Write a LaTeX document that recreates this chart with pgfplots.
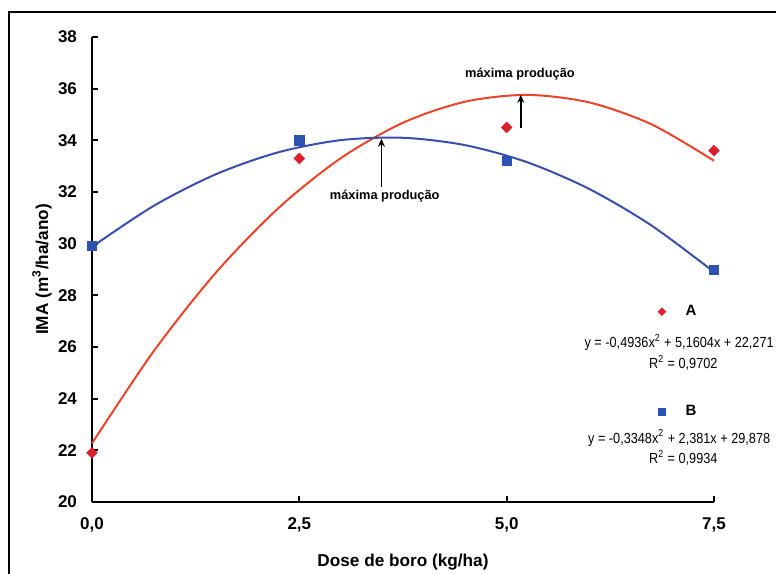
\documentclass[border=0pt]{standalone}
\usepackage{fontspec}
\setmainfont{Liberation Sans}
\usepackage{graphicx}
\usepackage{pgfplots}
\pgfplotsset{compat=1.18}
\usetikzlibrary{arrows.meta}
\definecolor{curvaA}{RGB}{236,68,40}
\definecolor{pontoA}{RGB}{218,32,44}
\definecolor{curvaB}{RGB}{58,78,176}
\definecolor{pontoB}{RGB}{44,82,178}
\newcommand{\eqfont}{\fontsize{7.3}{9}\selectfont}

\begin{document}
\begin{tikzpicture}
\useasboundingbox (-46pt,-35.5pt) rectangle (342pt,251pt);
\clip (-46pt,-35.5pt) rectangle (342pt,251pt);
% moldura
\draw[line width=1pt] (-41.5pt,-60pt) -- (-41.5pt,245pt) -- (400pt,245pt);
\begin{axis}[
  at={(0,0)}, anchor=south west,
  width=311pt, height=232.5pt, scale only axis,
  xmin=0, xmax=7.5, ymin=20, ymax=38,
  clip=false,
  axis x line=bottom, axis y line=left,
  axis line style={-, line width=1pt},
  xtick={0,2.5,5,7.5}, ytick={20,22,...,38},
  tick align=inside, major tick length=3pt,
  tick style={black, line width=1pt},
  /pgf/number format/assume math mode=true,
  ticklabel style={font=\bfseries\fontsize{8.5}{10}\selectfont},
  xticklabel style={yshift=-4.5pt, /pgf/number format/.cd, use comma, fixed, fixed zerofill, precision=1},
  yticklabel style={xshift=-4pt},
  xlabel={Dose de boro (kg/ha)},
  ylabel={IMA (m\textsuperscript{3}/ha/ano)},
  label style={font=\bfseries\fontsize{8.6}{10}\selectfont},
  xlabel style={at={(axis description cs:0.5,0)}, anchor=center, yshift=-30pt},
  ylabel style={at={(axis description cs:-0.0804,0.5)}, anchor=center},
  legend style={draw=none, fill=none, at={(axis cs:6.75,27.95)}, anchor=north west,
    row sep=39.5pt, font=\bfseries\fontsize{7.5}{9}\selectfont,
    /tikz/every odd column/.append style={column sep=8pt}},
  legend cell align=left,
  legend image post style={every mark/.append style={scale=0.72}},
]
% pontos observados
\addplot[only marks, mark=square*, mark options={rotate=45}, mark size=1.85pt, color=pontoA] coordinates {
  (0,21.9) (2.5,33.3) (5,34.5) (7.5,33.6)
};
\addlegendentry{A}
\addplot[only marks, mark=square*, mark size=2.3pt, color=pontoB] coordinates {
  (0,29.9) (2.5,34.0) (5,33.2) (7.5,29.0)
};
\addlegendentry{B}
% curvas de tendencia
\addplot[curvaA, line width=1pt, smooth, forget plot] coordinates {
  (0,22.271) (0.75,25.864) (1.5,28.901) (2.25,31.383) (3,33.310) (3.75,34.681)
  (4.5,35.497) (5.25,35.758) (6,35.464) (6.75,34.614) (7.5,33.209)
};
\addplot[curvaB, line width=1pt, smooth, forget plot] coordinates {
  (0,29.878) (0.75,31.475) (1.5,32.696) (2.25,33.540) (3,34.008) (3.75,34.099)
  (4.5,33.813) (5.25,33.150) (6,32.111) (6.75,30.695) (7.5,28.903)
};
% setas
\draw[-{Stealth[length=4pt,width=3.5pt]}, line width=0.8pt] (axis cs:5.17,34.48) -- (axis cs:5.17,35.76);
\node[font=\bfseries\fontsize{6.4}{8}\selectfont] at (axis cs:5.16,36.57) {máxima produção};
\draw[-{Stealth[length=4pt,width=3.5pt]}, line width=0.8pt] (axis cs:3.49,32.2) -- (axis cs:3.49,34.06);
\node[font=\bfseries\fontsize{6.4}{8}\selectfont] at (axis cs:3.53,31.85) {máxima produção};
% equacoes
\node[font=\eqfont] at (axis cs:7.08,26.16) {\scalebox{0.87}[1]{y = -0,4936x\textsuperscript{2} + 5,1604x + 22,271}};
\node[font=\eqfont] at (axis cs:7.13,25.38) {\scalebox{0.87}[1]{R\textsuperscript{2} = 0,9702}};
\node[font=\eqfont] at (axis cs:7.08,22.48) {\scalebox{0.87}[1]{y = -0,3348x\textsuperscript{2} + 2,381x + 29,878}};
\node[font=\eqfont] at (axis cs:7.13,21.70) {\scalebox{0.87}[1]{R\textsuperscript{2} = 0,9934}};
\end{axis}
\end{tikzpicture}
\end{document}
